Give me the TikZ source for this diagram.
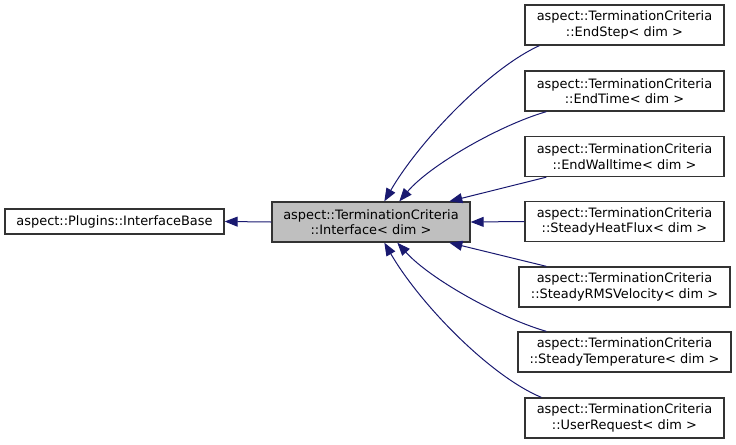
\documentclass[tikz,border=0pt]{standalone}
\usepackage{fontspec}
\setmainfont{DejaVu Sans}
\usetikzlibrary{arrows.meta,calc}
\definecolor{midnightblue}{HTML}{191970}

\begin{document}
\begin{tikzpicture}[
    x=0.75pt, y=-0.75pt,
    cls/.style={rectangle, draw=black!80, line width=1pt, fill=white, inner sep=0pt, minimum width=149.25pt, minimum height=30pt, align=center, font=\fontsize{9.7}{11.7}\selectfont},
    every edge/.style={draw, midnightblue, line width=0.75pt, -{Triangle[length=9.75pt,width=7.5pt]}},
    via/.style 2 args={to path={.. controls #1 and #2 .. (\tikztotarget)}}
]
\useasboundingbox (0,0) rectangle (736,444);

\node[cls, minimum width=164.25pt, minimum height=18.75pt] (base) at (114.5,221.5) {aspect::Plugins::InterfaceBase};
\node[cls, fill=gray!50, minimum width=148.5pt] (iface) at (371,222) {aspect::TerminationCriteria\\::Interface< dim >};

\node[cls] (endstep) at (624.5,25) {aspect::TerminationCriteria\\::EndStep< dim >};
\node[cls] (endtime) at (624.5,91) {aspect::TerminationCriteria\\::EndTime< dim >};
\node[cls] (endwall) at (624.5,156.5) {aspect::TerminationCriteria\\::EndWalltime< dim >};
\node[cls] (heatflux) at (624.5,221.5) {aspect::TerminationCriteria\\::SteadyHeatFlux< dim >};
\node[cls, minimum width=158.25pt] (rms) at (624.5,287) {aspect::TerminationCriteria\\::SteadyRMSVelocity< dim >};
\node[cls, minimum width=159.75pt] (temp) at (624.5,352) {aspect::TerminationCriteria\\::SteadyTemperature< dim >};
\node[cls] (userreq) at (624.5,418) {aspect::TerminationCriteria\\::UserRequest< dim >};

\path (iface.west) edge (base.east);
\path ($(endstep.south west)+(15,0)$) edge[via={(490,68)}{(420,140)}] ($(iface.north west)+(113,0)$);
\path ($(endtime.south west)+(22,0)$) edge[via={(500,125)}{(430,165)}] ($(iface.north west)+(128,0)$);
\path ($(endwall.south west)+(22,0)$) edge ($(iface.north west)+(178,0)$);
\path (heatflux.west) edge (iface.east);
\path ($(rms.north west)+(28,0)$) edge ($(iface.south west)+(178,0)$);
\path ($(temp.north west)+(29,0)$) edge[via={(500,318)}{(430,279)}] ($(iface.south west)+(126,0)$);
\path ($(userreq.north west)+(17,0)$) edge[via={(490,376)}{(420,304)}] ($(iface.south west)+(113,0)$);

\end{tikzpicture}
\end{document}
